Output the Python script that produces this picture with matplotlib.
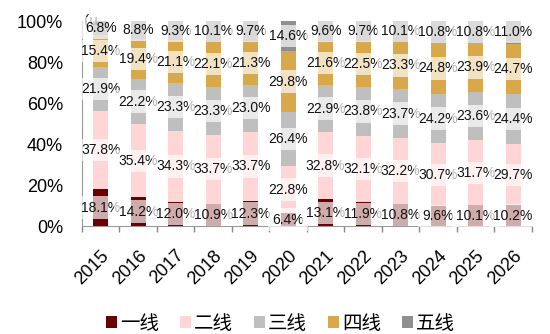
import matplotlib
matplotlib.use("Agg")
import matplotlib.pyplot as plt
from matplotlib.patches import Patch
import numpy as np

plt.rcParams['font.family'] = ['Liberation Sans', 'Noto Sans CJK SC', 'DejaVu Sans']

years = ['2015', '2016', '2017', '2018', '2019', '2020', '2021', '2022', '2023', '2024', '2025', '2026']
series_names = ['一线', '二线', '三线', '四线', '五线']
tier1 = [18.1, 14.2, 12.0, 10.9, 12.3, 6.4, 13.1, 11.9, 10.8, 9.6, 10.1, 10.2]
tier2 = [37.8, 35.4, 34.3, 33.7, 33.7, 22.8, 32.8, 32.1, 32.2, 30.7, 31.7, 29.7]
tier3 = [21.9, 22.2, 23.3, 23.3, 23.0, 26.4, 22.9, 23.8, 23.7, 24.2, 23.6, 24.4]
tier4 = [15.4, 19.4, 21.1, 22.1, 21.3, 29.8, 21.6, 22.5, 23.3, 24.8, 23.9, 24.7]
tier5 = [6.8, 8.8, 9.3, 10.1, 9.7, 14.6, 9.6, 9.7, 10.1, 10.8, 10.8, 11.0]
colors = ['#6B0000', '#FFD5D5', '#BFBFBF', '#D9A84A', '#8F8F8F']

data = [tier1, tier2, tier3, tier4, tier5]

fig = plt.figure(figsize=(5.5, 3.34), dpi=100)
ax = fig.add_axes([0.149, 0.323, 0.818, 0.614])

x = np.arange(len(years))
bottom = np.zeros(len(years))
for vals, col, name in zip(data, colors, series_names):
    vals = np.array(vals)
    ax.bar(x, vals, 0.4, bottom=bottom, color=col, label=name, zorder=2)
    for xi, b, v in zip(x, bottom, vals):
        ax.text(xi, b + v / 2, f'{v:.1f}%', ha='center', va='center',
                fontsize=10, color='#111111', zorder=4,
                bbox=dict(boxstyle='square,pad=0.3', facecolor='white',
                          edgecolor='none', alpha=0.68))
    bottom += vals

ax.set_xlim(-0.5, len(years) - 0.5)
ax.set_ylim(0, 100)
ax.set_yticks([0, 20, 40, 60, 80, 100])
ax.set_yticklabels(['0%', '20%', '40%', '60%', '80%', '100%'], fontsize=13)
ax.tick_params(axis='y', length=0, pad=13.5)
ax.set_xticks(x)
ax.set_xticklabels(years, rotation=45, ha='right', rotation_mode='anchor', fontsize=13)
ax.set_xticks(np.arange(-0.5, len(years)), minor=True)
ax.tick_params(axis='x', which='major', length=0, pad=15)
ax.tick_params(axis='x', which='minor', length=4, color='#888888', width=1)
for s in ['top', 'right']:
    ax.spines[s].set_visible(False)
ax.spines['left'].set_color('#999999')
ax.spines['bottom'].set_color('#999999')
ax.spines['left'].set_zorder(1)

ax.text(0.005, 1.0, '(u', transform=ax.transAxes, fontsize=11, ha='left',
        va='center', color='#222222', zorder=3)

handles = [Patch(facecolor=c, edgecolor='none') for c in colors]
fig.legend(handles, series_names, loc='center', bbox_to_anchor=(0.51, 0.03),
           ncol=5, frameon=False, fontsize=14, handlelength=0.55,
           handleheight=0.55, handletextpad=0.15, columnspacing=1.1)

fig.savefig('out.png', dpi=100)
